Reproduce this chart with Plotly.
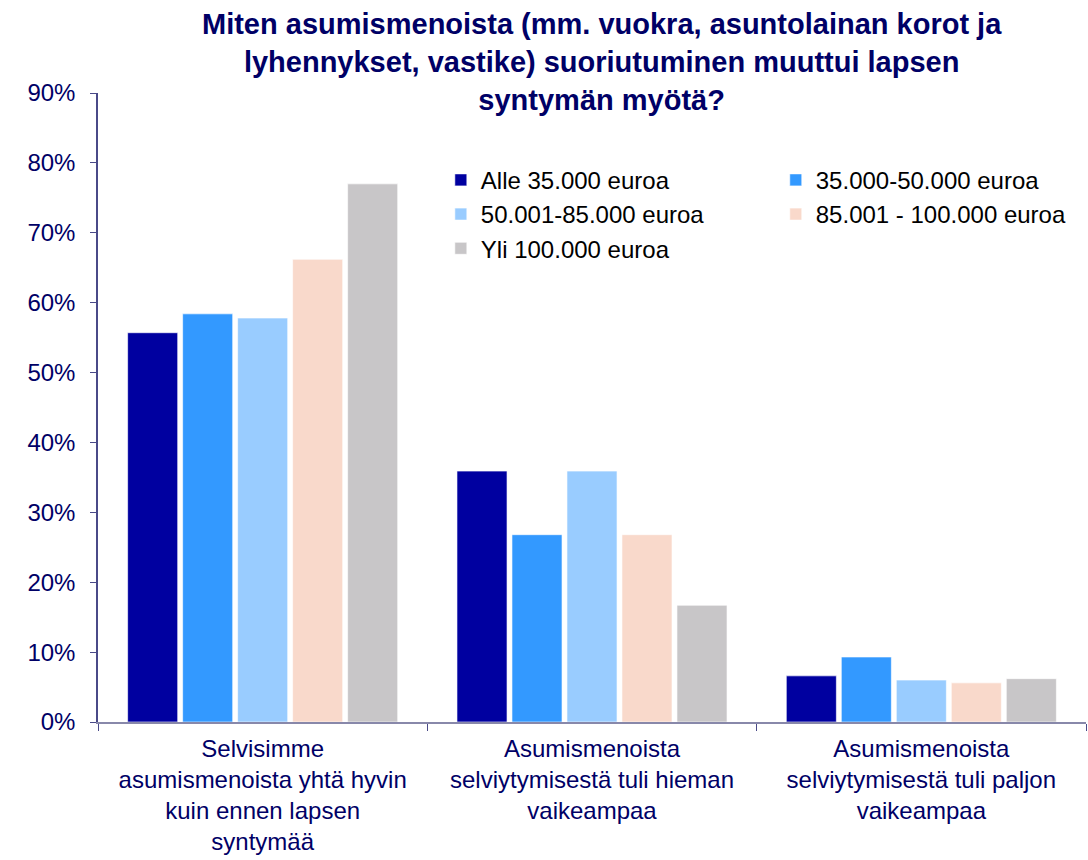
import plotly.graph_objects as go

categories = [
    "Selvisimme<br>asumismenoista yhtä hyvin<br>kuin ennen lapsen<br>syntymää",
    "Asumismenoista<br>selviytymisestä tuli hieman<br>vaikeampaa",
    "Asumismenoista<br>selviytymisestä tuli paljon<br>vaikeampaa",
]
series_names = [
    "Alle 35.000 euroa",
    "35.000-50.000 euroa",
    "50.001-85.000 euroa",
    "85.001 - 100.000 euroa",
    "Yli 100.000 euroa",
]
alle_35 = [0.557, 0.359, 0.066]
v35_50 = [0.584, 0.268, 0.093]
v50_85 = [0.578, 0.359, 0.060]
v85_100 = [0.662, 0.268, 0.056]
yli_100 = [0.770, 0.167, 0.062]
series_values = [alle_35, v35_50, v50_85, v85_100, yli_100]
colors = ["#0000A0", "#3399FF", "#99CCFF", "#F9D9CB", "#C8C6C8"]
legend_ids = ["legend", "legend2", "legend", "legend2", "legend"]
y_ticks = [0, 0.1, 0.2, 0.3, 0.4, 0.5, 0.6, 0.7, 0.8, 0.9]

navy = "#000066"
font_family = "Liberation Sans, Arial, sans-serif"

fig = go.Figure()
for name, vals, col, lg in zip(series_names, series_values, colors, legend_ids):
    fig.add_trace(go.Bar(
        x=categories, y=vals, name=name, legend=lg,
        marker=dict(color=col, line=dict(color="rgba(255,255,255,0.6)", width=1)),
    ))

legend_style = dict(
    orientation="v", yanchor="top", xanchor="left",
    font=dict(family=font_family, size=24, color="#000000"),
    bgcolor="rgba(0,0,0,0)", itemwidth=30, tracegroupgap=0,
)

fig.update_layout(
    width=1088, height=860,
    paper_bgcolor="white", plot_bgcolor="white",
    margin=dict(l=98, r=2, t=93, b=138, autoexpand=False),
    barmode="group", bargap=0.165, bargroupgap=0.09,
    font=dict(family=font_family, size=24, color=navy),
    title=dict(
        text="<b>Miten asumismenoista (mm. vuokra, asuntolainan korot ja<br>lyhennykset, vastike) suoriutuminen muuttui lapsen<br>syntymän myötä?</b>",
        x=0.553, xanchor="center", y=0.96, yanchor="top",
        font=dict(family=font_family, size=29, color=navy),
    ),
    legend=dict(x=0.347, y=0.897, **legend_style),
    legend2=dict(x=0.686, y=0.897, **legend_style),
    showlegend=True,
)
fig.update_yaxes(
    range=[0, 0.9], tickvals=y_ticks, tickformat=".0%",
    showgrid=False, zeroline=False, automargin=False,
    showline=True, linecolor="#4a4a88", linewidth=1.5,
    ticks="outside", ticklen=6, tickcolor="#4a4a88", ticklabelstandoff=10,
    tickfont=dict(family=font_family, size=24, color=navy),
)
fig.update_xaxes(
    showgrid=False, showline=True, linecolor="#8888aa", linewidth=1.5,
    automargin=False,
    ticks="outside", tickson="boundaries", ticklen=7, tickcolor="#4a4a88",
    ticklabelstandoff=4,
    tickfont=dict(family=font_family, size=24, color=navy),
)
fig.write_html(
    "out.html",
    config={"displayModeBar": False},
    post_script="document.body.style.margin='0px';document.body.style.overflow='hidden';",
)
